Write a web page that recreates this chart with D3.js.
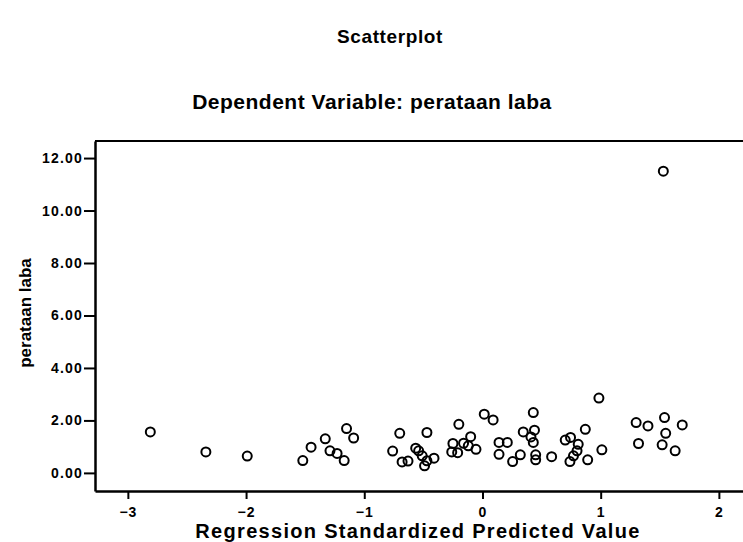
<!DOCTYPE html>
<html>
<head>
<meta charset="utf-8">
<script src="https://cdn.jsdelivr.net/npm/d3@7"></script>
<style>
  html, body { margin: 0; padding: 0; background: #fff; }
  svg { display: block; font-family: "Liberation Sans", Arial, Helvetica, sans-serif; }
</style>
</head>
<body>
<svg id="chart" width="743" height="542"></svg>
<script>
// ---- Data ----
const title = "Scatterplot";
const subtitle = "Dependent Variable: perataan laba";
const xLabel = "Regression Standardized Predicted Value";
const yLabel = "perataan laba";

const xTicks = [-3, -2, -1, 0, 1, 2];
const yTicks = [0, 2, 4, 6, 8, 10, 12];

// Regression standardized predicted value
const predicted = [
  -2.81, -2.34, -1.99, -1.52, -1.45, -1.33, -1.29, -1.23, -1.17, -1.15, -1.09,
  -0.76, -0.70, -0.68, -0.63, -0.565, -0.54, -0.51, -0.47, -0.49, -0.41, -0.47,
  -0.20, -0.25, -0.26, -0.21, -0.16, -0.10, -0.12, -0.055,
  0.015, 0.09, 0.14, 0.14, 0.21, 0.255, 0.32, 0.345, 0.41, 0.43, 0.44, 0.43, 0.45, 0.45,
  0.585, 0.70, 0.745, 0.81, 0.80, 0.77, 0.74, 0.87, 0.89, 0.985, 1.01,
  1.30, 1.40, 1.54, 1.69, 1.55, 1.32, 1.52, 1.63, 1.53
];
// perataan laba
const perataan = [
  1.56, 0.80, 0.64, 0.47, 0.98, 1.30, 0.84, 0.74, 0.47, 1.69, 1.33,
  0.83, 1.51, 0.42, 0.45, 0.94, 0.84, 0.65, 0.46, 0.27, 0.56, 1.54,
  1.85, 1.12, 0.80, 0.77, 1.13, 1.38, 1.03, 0.90,
  2.24, 2.02, 1.16, 0.71, 1.16, 0.43, 0.69, 1.56, 1.37, 1.16, 1.63, 2.30, 0.69, 0.50,
  0.62, 1.25, 1.35, 1.09, 0.84, 0.65, 0.43, 1.66, 0.50, 2.85, 0.88,
  1.92, 1.79, 2.11, 1.83, 1.51, 1.12, 1.07, 0.84, 11.50
];

// ---- Layout ----
const svg = d3.select("#chart");
const plot = { left: 95, right: 743, top: 141, bottom: 491 };

const x = d3.scaleLinear().domain([-3.278, 2.204]).range([plot.left, plot.right]);
const y = d3.scaleLinear().domain([-0.69, 12.65]).range([plot.bottom, plot.top]);

// Titles
svg.append("text")
  .attr("x", 390).attr("y", 43)
  .attr("text-anchor", "middle")
  .style("font-weight", "bold").style("font-size", "19px")
  .attr("letter-spacing", 0.6)
  .text(title);

svg.append("text")
  .attr("x", 372).attr("y", 109)
  .attr("text-anchor", "middle")
  .style("font-weight", "bold").style("font-size", "21px")
  .attr("letter-spacing", 0.5)
  .text(subtitle);

// Frame top line
svg.append("line")
  .attr("x1", plot.left).attr("x2", plot.right)
  .attr("y1", plot.top).attr("y2", plot.top)
  .attr("stroke", "#000").attr("stroke-width", 2);

const tickFont = "'Liberation Sans', Arial, sans-serif";

// Axes
const xAxis = d3.axisBottom(x).tickValues(xTicks).tickFormat(d3.format("d")).tickSize(8).tickSizeOuter(0);
const gx = svg.append("g").attr("transform", `translate(0,${plot.bottom})`).call(xAxis);
gx.attr("font-size", null).attr("font-family", null);
gx.select(".domain").attr("stroke-width", 2.5);
gx.selectAll(".tick line").attr("stroke-width", 2);
gx.selectAll(".tick text")
  .style("font-size", "14px").style("font-weight", "bold")
  .style("font-family", tickFont).style("letter-spacing", "1px")
  .attr("y", 16).attr("dy", "0.71em").attr("fill", "#000");

const yAxis = d3.axisLeft(y).tickValues(yTicks).tickFormat(d3.format(".2f")).tickSize(11).tickSizeOuter(0);
const gy = svg.append("g").attr("transform", `translate(${plot.left},0)`).call(yAxis);
gy.attr("font-size", null).attr("font-family", null);
gy.select(".domain").attr("stroke-width", 2.5);
gy.selectAll(".tick line").attr("stroke-width", 2);
gy.selectAll(".tick text")
  .style("font-size", "14px").style("font-weight", "bold")
  .style("font-family", tickFont).style("letter-spacing", "1.2px")
  .attr("x", -12).attr("fill", "#000");

// Axis labels
svg.append("text")
  .attr("x", 418).attr("y", 538)
  .attr("text-anchor", "middle")
  .style("font-weight", "bold").style("font-size", "20px")
  .attr("letter-spacing", 1.3)
  .text(xLabel);

svg.append("text")
  .attr("transform", `translate(31,313) rotate(-90)`)
  .attr("text-anchor", "middle")
  .style("font-weight", "bold").style("font-size", "17px")
  .text(yLabel);

// Points
const pts = predicted.map((v, i) => ({ x: v, y: perataan[i] }));
svg.append("g").selectAll("circle")
  .data(pts)
  .join("circle")
  .attr("cx", d => x(d.x))
  .attr("cy", d => y(d.y))
  .attr("r", 4.5)
  .attr("fill", "none")
  .attr("stroke", "#000")
  .attr("stroke-width", 2);
</script>
</body>
</html>
